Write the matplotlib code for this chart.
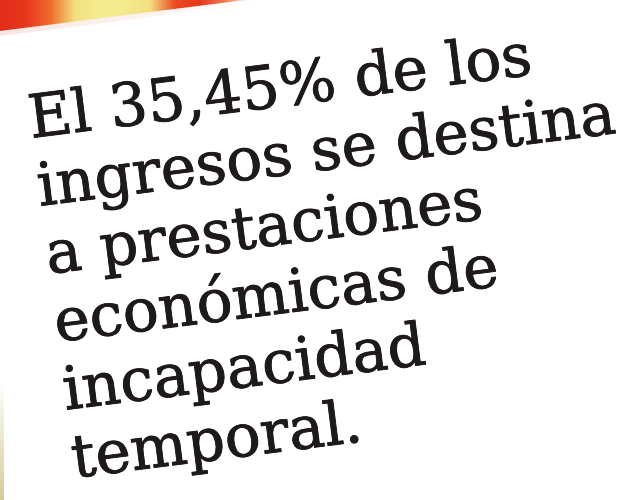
import numpy as np
import matplotlib
matplotlib.use("Agg")
import matplotlib.pyplot as plt
from matplotlib.patches import Polygon
import matplotlib.patheffects as pe

# Text content
lines = [
    "El 35,45% de los",
    "ingresos se destina",
    "a prestaciones",
    "económicas de",
    "incapacidad",
    "temporal.",
]
# Decorative stripe colours (left to right) along the top edge
stripe_colors = ["#e22e1a", "#e8351c", "#ee6a2c", "#f3e07e", "#f5ec92", "#f4ea8e",
                 "#f3df80", "#ec4a22", "#e6361c", "#f07a50", "#faeae2"]

W, H = 626, 500
fig = plt.figure(figsize=(W / 100, H / 100), dpi=100)
ax = fig.add_axes([0, 0, 1, 1])
ax.set_xlim(0, W)
ax.set_ylim(H, 0)
ax.axis("off")
fig.patch.set_facecolor("white")

theta = np.deg2rad(7.2)

# coloured stripe above the card's top edge
edge_y0 = 31.0
edge_slope = np.tan(theta)
grad = np.array([matplotlib.colors.to_rgb(c) for c in stripe_colors])
xs = np.linspace(0, 1, 300)
pos = np.linspace(0, 1, len(stripe_colors))
img = np.stack([np.interp(xs, pos, grad[:, k]) for k in range(3)], axis=-1)[None, :, :]
im = ax.imshow(img, extent=[0, 250, 40, 0], aspect="auto", zorder=1)
clip = Polygon([[0, 0], [250, 0], [250, edge_y0 - 250 * edge_slope], [0, edge_y0]],
               closed=True, transform=ax.transData)
im.set_clip_path(clip)
# soft shadow just below the edge, fading to the right
shadow = np.ones((1, 200, 4))
shadow[..., :3] = matplotlib.colors.to_rgb("#f0b8a8")
shadow[..., 3] = np.linspace(0.35, 0.0, 200)
sh = ax.imshow(shadow, extent=[0, 260, 50, 0], aspect="auto", zorder=1)
sh.set_clip_path(Polygon([[0, edge_y0], [260, edge_y0 - 260 * edge_slope],
                          [260, edge_y0 + 5 - 260 * edge_slope], [0, edge_y0 + 5]],
                         closed=True, transform=ax.transData))
# faint yellowish left edge at the bottom
edge = np.ones((100, 1, 4))
edge[..., :3] = matplotlib.colors.to_rgb("#c2b86a")
edge[..., 3] = np.linspace(0.0, 0.7, 100)[:, None]
ax.imshow(edge, extent=[0, 4, 500, 380], aspect="auto", zorder=1)

# text block
x0, y0 = 31, 138
gap = 68.5
for k, s in enumerate(lines):
    x = x0 + k * gap * np.sin(theta)
    y = y0 + k * gap * np.cos(theta)
    ax.text(x, y, s, fontsize=43, family="DejaVu Serif", color="#1e1a1a",
            rotation=np.rad2deg(theta), rotation_mode="anchor",
            ha="left", va="baseline", zorder=3,
            path_effects=[pe.withStroke(linewidth=0.6, foreground="#1e1a1a")])

ax.set_xlim(0, W)
ax.set_ylim(H, 0)
fig.savefig("out.png", dpi=100)
